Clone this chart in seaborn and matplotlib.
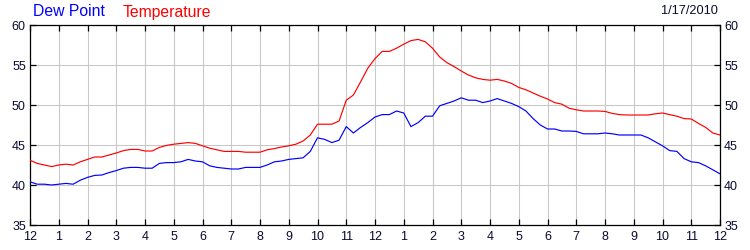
import matplotlib
matplotlib.use("Agg")
import matplotlib.pyplot as plt
import numpy as np
import pandas as pd
import seaborn as sns

# ---- data ----
hours = [i * 0.25 for i in range(97)]
hour_labels = ["12", "1", "2", "3", "4", "5", "6", "7", "8", "9", "10", "11",
               "12", "1", "2", "3", "4", "5", "6", "7", "8", "9", "10", "11", "12"]
temperature = [
    43.1, 42.7, 42.5, 42.3, 42.5, 42.6, 42.5, 42.9, 43.2,
    43.5, 43.5, 43.75, 44.0, 44.3, 44.45, 44.45, 44.25,
    44.25, 44.7, 44.95, 45.1, 45.2, 45.3, 45.2, 44.9,
    44.6, 44.4, 44.2, 44.2, 44.2, 44.1, 44.1, 44.1,
    44.4, 44.55, 44.75, 44.9, 45.1, 45.5, 46.25, 47.6,
    47.6, 47.6, 48.0, 50.6, 51.25, 52.9, 54.6, 55.8,
    56.7, 56.7, 57.1, 57.6, 58.05, 58.2, 57.9, 57.1,
    56.0, 55.3, 54.8, 54.25, 53.75, 53.4, 53.2, 53.1,
    53.2, 53.0, 52.7, 52.2, 51.9, 51.5, 51.1, 50.75,
    50.3, 50.1, 49.6, 49.4, 49.25, 49.25, 49.25, 49.2,
    48.95, 48.8, 48.75, 48.75, 48.75, 48.75, 48.9, 49.0,
    48.8, 48.6, 48.3, 48.25, 47.7, 47.2, 46.5, 46.25,
]
dew_point = [
    40.4, 40.1, 40.1, 40.0, 40.1, 40.2, 40.1, 40.6, 40.95,
    41.2, 41.25, 41.55, 41.8, 42.1, 42.2, 42.2, 42.1,
    42.1, 42.7, 42.8, 42.8, 42.9, 43.2, 43.0, 42.9,
    42.4, 42.2, 42.1, 42.0, 42.0, 42.2, 42.2, 42.2,
    42.5, 42.9, 43.0, 43.2, 43.3, 43.4, 44.2, 45.9,
    45.7, 45.3, 45.6, 47.3, 46.5, 47.2, 47.8, 48.5,
    48.8, 48.8, 49.25, 49.0, 47.3, 47.8, 48.6, 48.6,
    49.9, 50.2, 50.5, 50.9, 50.6, 50.6, 50.3, 50.5,
    50.8, 50.5, 50.2, 49.8, 49.25, 48.3, 47.5, 47.0,
    47.0, 46.75, 46.75, 46.7, 46.4, 46.4, 46.4, 46.5,
    46.4, 46.25, 46.25, 46.25, 46.25, 45.9, 45.4, 44.9,
    44.3, 44.2, 43.3, 42.9, 42.8, 42.4, 41.9, 41.4,
]
series_names = ["Dew Point", "Temperature"]
date_label = "1/17/2010"

df = pd.DataFrame({
    "hour": hours + hours,
    "value": dew_point + temperature,
    "series": [series_names[0]] * len(hours) + [series_names[1]] * len(hours),
})

sns.set_theme(style="white")
plt.rcParams["font.family"] = ["Liberation Sans", "DejaVu Sans"]

fig = plt.figure(figsize=(7.5, 2.5), dpi=100)
ax = fig.add_axes([0.04, 0.1, 0.92, 0.8])
sns.lineplot(data=df, x="hour", y="value", hue="series",
             palette={"Dew Point": "#0000ff", "Temperature": "#ff0000"},
             legend=False, linewidth=0.85, ax=ax, zorder=3)

ax.set_xlim(0, 24)
ax.set_ylim(35, 60)
ax.set_xticks(range(25))
ax.set_xticklabels(hour_labels)
ax.set_yticks(range(35, 61, 5))
ax.set_xlabel("")
ax.set_ylabel("")
ax.grid(True, color="#c8c8c8", linewidth=0.75)
ax.set_axisbelow(True)
for s in ax.spines.values():
    s.set_color("black")
    s.set_linewidth(0.9)
ax.tick_params(axis="both", direction="in", length=4, width=0.9, color="black",
               top=True, right=True, bottom=True, left=True,
               labelright=True, labelsize=9, labelcolor="#0a0a30", pad=3)
ax.tick_params(axis="x", pad=4)

fig.text(33 / 750, 1 - 12 / 250, series_names[0], color="#0000ff",
         fontsize=11.3, va="center", ha="left")
fig.text(123 / 750, 1 - 12 / 250, series_names[1], color="#ff0000",
         fontsize=11.3, va="center", ha="left")
fig.text(718 / 750, 1 - 11 / 250, date_label, color="#0a0a30",
         fontsize=9.2, va="center", ha="right")

fig.savefig("out.png", dpi=100)
